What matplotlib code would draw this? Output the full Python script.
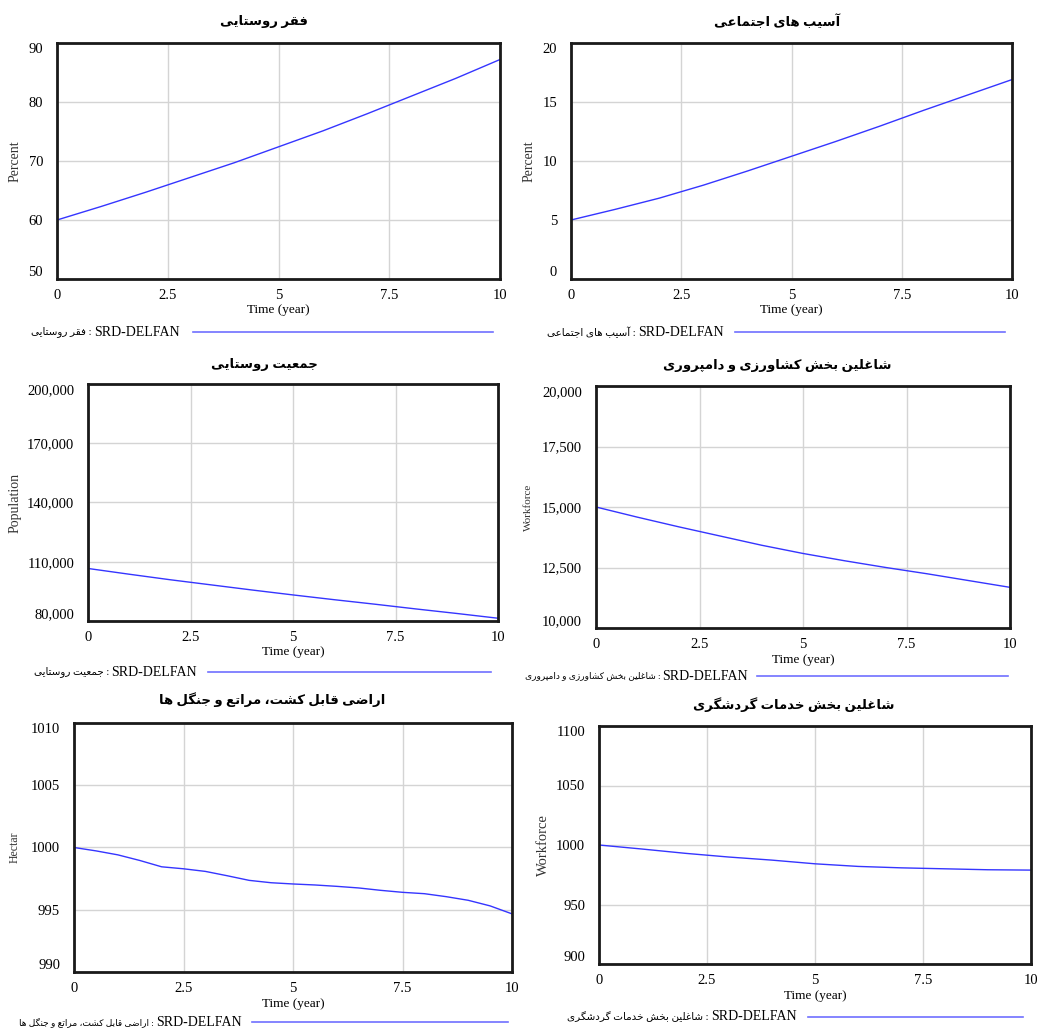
import matplotlib
matplotlib.use("Agg")
import matplotlib.pyplot as plt

plt.rcParams['font.family'] = ['Liberation Serif', 'DejaVu Sans']

W, H = 1037, 1028

# time axis (years)
years = [0, 1, 2, 3, 4, 5, 6, 7, 8, 9, 10]
half_years = [0, 0.5, 1, 1.5, 2, 2.5, 3, 3.5, 4, 4.5, 5, 5.5, 6, 6.5, 7, 7.5, 8, 8.5, 9, 9.5, 10]

# series
rural_poverty = [60, 62.3, 64.7, 67.2, 69.7, 72.4, 75.1, 78.0, 81.0, 84.0, 87.2]
social_harm = [5.0, 5.9, 6.85, 7.95, 9.15, 10.4, 11.65, 12.95, 14.3, 15.6, 16.9]
rural_pop = [106600, 103700, 100900, 98300, 95700, 93200, 90800, 88500, 86100, 83800, 81400]
agri_workers = [15000, 14580, 14180, 13800, 13420, 13080, 12780, 12500, 12240, 11960, 11680]
land = [1000, 999.73, 999.41, 998.96, 998.45, 998.29, 998.08, 997.73, 997.36, 997.17, 997.07,
        996.99, 996.88, 996.75, 996.56, 996.40, 996.29, 996.05, 995.76, 995.31, 994.67]
tourism_workers = [1000, 996.6, 993.0, 989.9, 987.3, 984.2, 982.0, 980.8, 980.0, 979.2, 978.9]

titles = ["فقر روستایی", "آسیب های اجتماعی", "جمعیت روستایی",
          "شاغلین بخش کشاورزی و دامپروری", "اراضی قابل کشت، مراتع و جنگل ها",
          "شاغلین بخش خدمات گردشگری"]
units = ["Percent", "Percent", "Population", "Workforce", "Hectar", "Workforce"]
yticks = [[50, 60, 70, 80, 90], [0, 5, 10, 15, 20],
          [80000, 110000, 140000, 170000, 200000], [10000, 12500, 15000, 17500, 20000],
          [990, 995, 1000, 1005, 1010], [900, 950, 1000, 1050, 1100]]
xticks = [0, 2.5, 5, 7.5, 10]
xticklabels = ["0", "2.5", "5", "7.5", "10"]

# minimal persian shaping: (isolated, final, initial, medial)
FORMS = {
    'ا': ('\ufe8d', '\ufe8e', None, None), 'آ': ('\ufe81', '\ufe82', None, None),
    'د': ('\ufea9', '\ufeaa', None, None), 'ر': ('\ufead', '\ufeae', None, None),
    'ز': ('\ufeaf', '\ufeb0', None, None), 'و': ('\ufeed', '\ufeee', None, None),
    'ب': ('\ufe8f', '\ufe90', '\ufe91', '\ufe92'), 'پ': ('\ufb56', '\ufb57', '\ufb58', '\ufb59'),
    'ت': ('\ufe95', '\ufe96', '\ufe97', '\ufe98'), 'ج': ('\ufe9d', '\ufe9e', '\ufe9f', '\ufea0'),
    'خ': ('\ufea5', '\ufea6', '\ufea7', '\ufea8'), 'س': ('\ufeb1', '\ufeb2', '\ufeb3', '\ufeb4'),
    'ش': ('\ufeb5', '\ufeb6', '\ufeb7', '\ufeb8'), 'ض': ('\ufebd', '\ufebe', '\ufebf', '\ufec0'),
    'ع': ('\ufec9', '\ufeca', '\ufecb', '\ufecc'), 'غ': ('\ufecd', '\ufece', '\ufecf', '\ufed0'),
    'ف': ('\ufed1', '\ufed2', '\ufed3', '\ufed4'), 'ق': ('\ufed5', '\ufed6', '\ufed7', '\ufed8'),
    'ک': ('\ufb8e', '\ufb8f', '\ufb90', '\ufb91'), 'گ': ('\ufb92', '\ufb93', '\ufb94', '\ufb95'),
    'ل': ('\ufedd', '\ufede', '\ufedf', '\ufee0'), 'م': ('\ufee1', '\ufee2', '\ufee3', '\ufee4'),
    'ن': ('\ufee5', '\ufee6', '\ufee7', '\ufee8'), 'ه': ('\ufee9', '\ufeea', '\ufeeb', '\ufeec'),
    'ی': ('\ufbfc', '\ufbfd', '\ufbfe', '\ufbff'),
}


def shape(s):
    out = []
    for i, c in enumerate(s):
        if c not in FORMS:
            out.append(c)
            continue
        prev = s[i - 1] if i > 0 else None
        nxt = s[i + 1] if i + 1 < len(s) else None
        jp = prev in FORMS and FORMS[prev][2] is not None
        jn = FORMS[c][2] is not None and nxt in FORMS
        f = FORMS[c]
        if jp and jn:
            out.append(f[3])
        elif jp:
            out.append(f[1])
        elif jn:
            out.append(f[2])
        else:
            out.append(f[0])
    return ''.join(out[::-1])


def fmt(v):
    return "{:,}".format(v) if v >= 10000 else str(v)


# pixel layout: axes box, title pos, ylabel x, legend (text right, line start, line end, y)
boxes = [(57, 43, 500, 279), (571, 43, 1012, 279), (88, 384, 498, 621),
         (596, 386, 1010, 628), (74, 723, 512, 972), (599, 726, 1031, 964)]
title_pos = [(264, 22), (777, 22), (264, 364), (777, 365), (272, 700), (794, 705)]
ylab_x = [15, 529, 15, 528, 15, 543]
ylab_size = [10, 10, 10, 8, 8.5, 10.5]
legends = [(180, 193, 493, 332), (724, 735, 1005, 332), (197, 208, 491, 672),
           (748, 757, 1008, 676), (242, 252, 508, 1022), (797, 808, 1023, 1017)]
leg_fa_size = [7.5, 7.5, 7.5, 6.5, 6.5, 7.5]

xs = [years, years, years, years, half_years, years]
ys = [rural_poverty, social_harm, rural_pop, agri_workers, land, tourism_workers]

fig = plt.figure(figsize=(W / 100, H / 100), dpi=100)
fig.patch.set_facecolor('white')

for k in range(6):
    l, t, r, b = boxes[k]
    ax = fig.add_axes([l / W, 1 - b / H, (r - l) / W, (b - t) / H])
    ax.plot(xs[k], ys[k], color='#3535ff', lw=1.0)
    ax.set_xlim(0, 10)
    ax.set_ylim(yticks[k][0], yticks[k][-1])
    ax.set_xticks(xticks)
    ax.set_xticklabels(xticklabels, fontsize=10.5)
    ax.set_yticks(yticks[k])
    ax.set_yticklabels([fmt(v) for v in yticks[k]], fontsize=10.5)
    ylabs = ax.get_yticklabels()
    ylabs[0].set_va('bottom')
    ylabs[-1].set_va('top')
    ax.tick_params(axis='y', length=0, pad=10)
    ax.tick_params(axis='x', length=0, pad=7)
    ax.grid(True, color='#d4d4d4', lw=1)
    for sp in ax.spines.values():
        sp.set_linewidth(2)
        sp.set_color('#1a1a1a')
    ax.set_xlabel("Time (year)", fontsize=9.5, labelpad=2)

    fig.text(title_pos[k][0] / W, 1 - title_pos[k][1] / H, shape(titles[k]),
             ha='center', va='center', fontsize=9.5, fontweight='bold')
    fig.text(ylab_x[k] / W, 1 - (t + b) / 2 / H, units[k], rotation=90,
             ha='center', va='center', fontsize=ylab_size[k], color='#333333')

    tr, l0, l1, ly = legends[k]
    srd = fig.text(tr / W, 1 - ly / H, "SRD-DELFAN", ha='right', va='center', fontsize=10)
    rend = fig.canvas.get_renderer()
    wpx = srd.get_window_extent(rend).width
    fig.text((tr - wpx) / W, 1 - ly / H, shape(titles[k]) + " : ", ha='right', va='center',
             fontsize=leg_fa_size[k])
    fig.add_artist(plt.Line2D([l0 / W, l1 / W], [1 - ly / H, 1 - ly / H],
                              color='#7070ff', lw=1.2))

fig.savefig("out.png", dpi=100)
